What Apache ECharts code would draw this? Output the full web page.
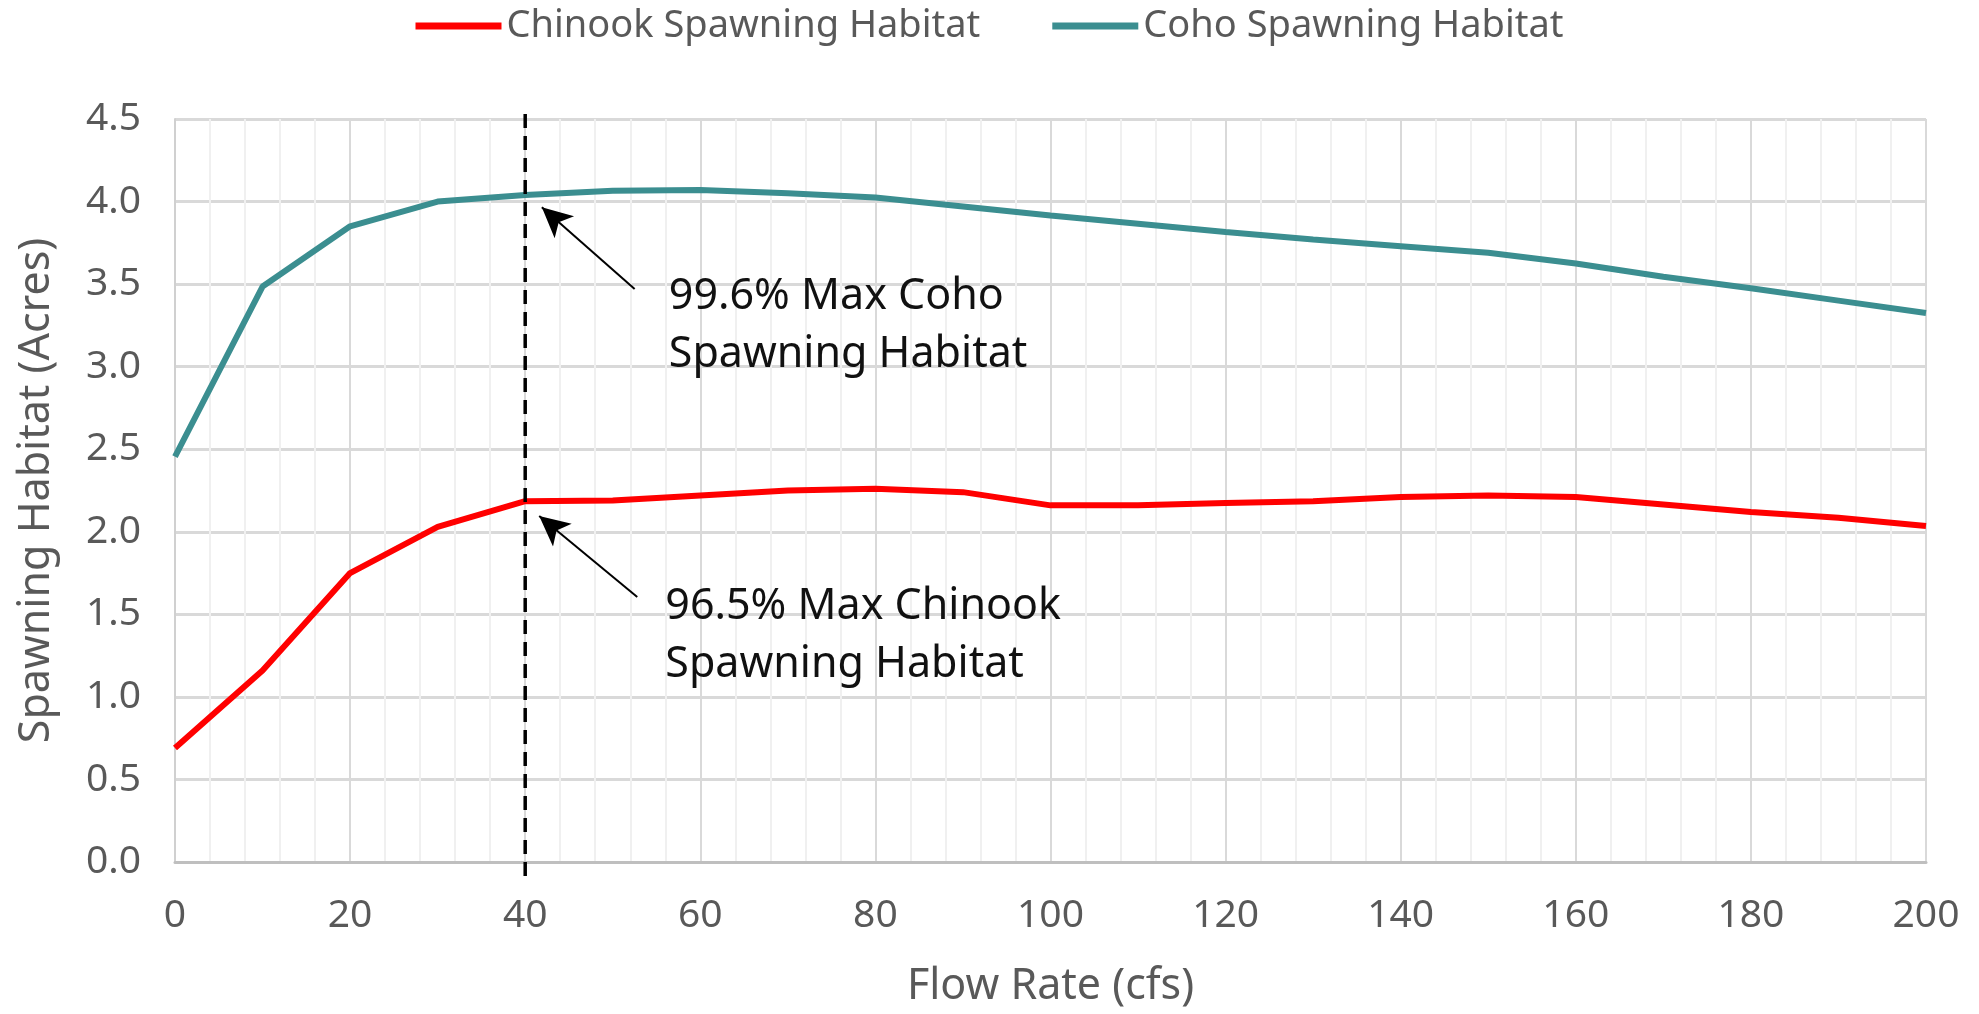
<!DOCTYPE html>
<html>
<head>
<meta charset="utf-8">
<script src="https://cdn.jsdelivr.net/npm/echarts@6/dist/echarts.min.js"></script>
<style>
html,body{margin:0;padding:0;background:#fff;}
#chart{width:1979px;height:1014px;}
</style>
</head>
<body>
<div id="chart"></div>
<script>
const flowRates = [0,10,20,30,40,50,60,70,80,90,100,110,120,130,140,150,160,170,180,190,200];
const chinookHabitat = [0.69,1.16,1.75,2.03,2.185,2.19,2.22,2.25,2.26,2.24,2.16,2.16,2.175,2.185,2.21,2.22,2.21,2.165,2.12,2.085,2.035];
const cohoHabitat = [2.455,3.485,3.85,4.0,4.04,4.065,4.07,4.05,4.025,3.97,3.915,3.865,3.815,3.77,3.73,3.69,3.625,3.545,3.475,3.4,3.325];
const xTicks = {min:0, max:200, interval:20};
const yTicks = {min:0, max:4.5, interval:0.5};
const selectedFlow = 40;
const cohoNote = '99.6% Max Coho\nSpawning Habitat';
const chinookNote = '96.5% Max Chinook\nSpawning Habitat';

const FONT = 'Noto Sans';
const chart = echarts.init(document.getElementById('chart'));
const pairs = arr => flowRates.map((f,i)=>[f, arr[i]]);

const arrowStyle = {color:'#000', width:2, type:'solid'};

chart.setOption({
  animation:false,
  textStyle:{fontFamily:FONT},
  legend:{
    top:2, left:'center',
    icon:'rect', itemWidth:86, itemHeight:7, itemGap:72,
    textStyle:{fontSize:38, color:'#595959', fontFamily:FONT},
    data:['Chinook Spawning Habitat','Coho Spawning Habitat']
  },
  grid:{left:175, right:53, top:119, bottom:152, containLabel:false},
  xAxis:{
    type:'value', min:xTicks.min, max:xTicks.max, interval:xTicks.interval,
    name:'Flow Rate (cfs)', nameLocation:'middle', nameGap:103,
    nameTextStyle:{fontSize:43, color:'#595959', fontFamily:FONT},
    axisLine:{show:true, lineStyle:{color:'#bfbfbf', width:3}},
    axisTick:{show:false},
    axisLabel:{fontSize:39, color:'#595959', margin:34, fontFamily:FONT},
    splitLine:{show:true, lineStyle:{color:'#d9d9d9', width:2}},
    minorTick:{show:false, splitNumber:5},
    minorSplitLine:{show:true, lineStyle:{color:'#f0f0f0', width:2}}
  },
  yAxis:{
    type:'value', min:yTicks.min, max:yTicks.max, interval:yTicks.interval,
    name:'Spawning Habitat (Acres)', nameLocation:'middle', nameGap:117,
    nameTextStyle:{fontSize:43, color:'#595959', fontFamily:FONT},
    axisLine:{show:true, lineStyle:{color:'#d0d0d0', width:2}},
    axisTick:{show:false},
    axisLabel:{fontSize:39, color:'#595959', margin:34, fontFamily:FONT,
      formatter:v=>v.toFixed(1)},
    splitLine:{show:true, lineStyle:{color:'#d9d9d9', width:3}}
  },
  series:[
    {
      name:'Chinook Spawning Habitat', type:'line', data:pairs(chinookHabitat),
      showSymbol:false, symbol:'none',
      lineStyle:{color:'#ff0000', width:6}, itemStyle:{color:'#ff0000'},
      z:3,
      markLine:{
        silent:true, symbol:['none','none'], animation:false,
        label:{show:false},
        data:[
          [{coord:[52.8,1.605], lineStyle:arrowStyle, symbol:'none'},
           {coord:[41.6,2.095], symbol:'arrow', symbolSize:[22,30]}]
        ]
      },
      markPoint:{
        silent:true, symbol:'circle', symbolSize:0,
        data:[{coord:[56.0,1.37], label:{show:true, position:'right', distance:0,
          formatter:chinookNote, fontSize:43, lineHeight:58, color:'#111', align:'left', fontFamily:FONT}}]
      }
    },
    {
      name:'Coho Spawning Habitat', type:'line', data:pairs(cohoHabitat),
      showSymbol:false, symbol:'none',
      lineStyle:{color:'#3b8e90', width:6}, itemStyle:{color:'#3b8e90'},
      z:3,
      markLine:{
        silent:true, symbol:['none','none'], animation:false,
        label:{show:false},
        data:[
          [{coord:[52.5,3.47], lineStyle:arrowStyle, symbol:'none'},
           {coord:[41.9,3.965], symbol:'arrow', symbolSize:[22,30]}]
        ]
      },
      markPoint:{
        silent:true, symbol:'circle', symbolSize:0,
        data:[{coord:[56.4,3.25], label:{show:true, position:'right', distance:0,
          formatter:cohoNote, fontSize:43, lineHeight:58, color:'#111', align:'left', fontFamily:FONT}}]
      }
    }
  ]
});

// dashed reference line at the selected flow, placed through the chart's own scale
const pBottom = chart.convertToPixel({gridIndex:0},[selectedFlow, yTicks.min]);
const pTop = chart.convertToPixel({gridIndex:0},[selectedFlow, yTicks.max]);
chart.setOption({
  graphic:[{
    type:'line', z:10, silent:true,
    shape:{x1:pBottom[0], y1:pBottom[1]+14, x2:pTop[0], y2:pTop[1]-10},
    style:{stroke:'#000', lineWidth:3.5, lineDash:[14,8]}
  }]
});
</script>
</body>
</html>
